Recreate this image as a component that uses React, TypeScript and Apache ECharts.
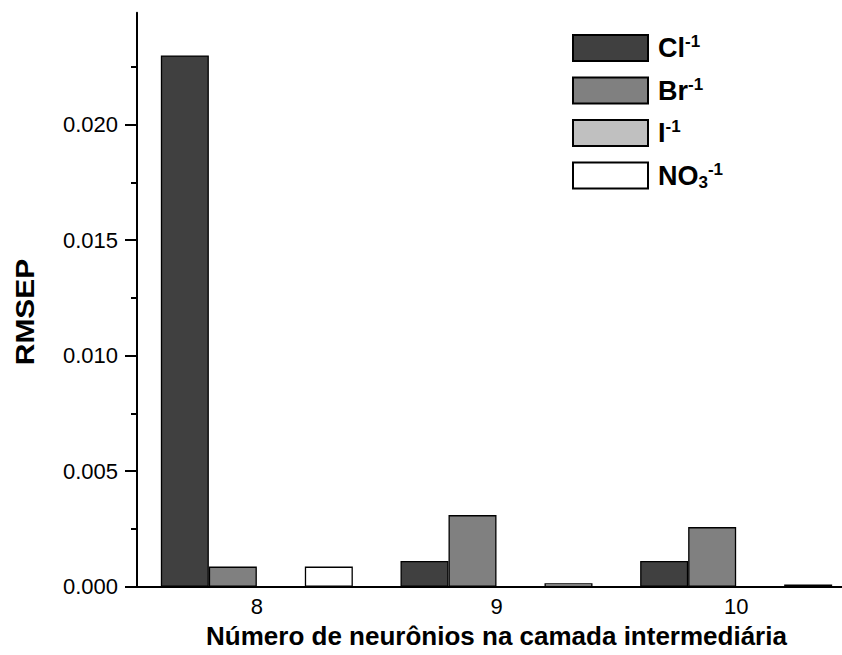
import React, { useEffect, useRef } from "react";
import * as echarts from "echarts";

const categories = ["8", "9", "10"];
const seriesNames = ["Cl", "Br", "I", "NO3"];
const clValues = [0.023, 0.00111, 0.00111];
const brValues = [0.00087, 0.0031, 0.00258];
const iValues = [0, 0, 0];
const no3Values = [0.00087, 0.00015, 0.0001];
const yMajorTicks = [0, 0.005, 0.01, 0.015, 0.02];
const yMinorTicks = [0.0025, 0.0075, 0.0125, 0.0175, 0.0225];
const yMax = 0.02485;

const legendLabels: Record<string, string> = {
  Cl: "{b|Cl}{sup|-1}",
  Br: "{b|Br}{sup|-1}",
  I: "{b|I}{sup|-1}",
  NO3: "{b|NO}{sub|3}{sup|-1}",
};

const FONT = "Arial, 'Liberation Sans', sans-serif";

export default function App() {
  const ref = useRef<HTMLDivElement>(null);
  useEffect(() => {
    document.body.style.margin = "0";
    if (!ref.current) return;
    const chart = echarts.init(ref.current, null, { renderer: "svg" });
    const colors = ["#404040", "#808080", "#c0c0c0", "#ffffff"];
    const values = [clValues, brValues, iValues, no3Values];
    chart.setOption({
      animation: false,
      backgroundColor: "#ffffff",
      grid: { left: 137, top: 12.7, right: -14, bottom: 68.3, containLabel: false, outerBoundsMode: "none" },
      legend: {
        orient: "vertical",
        left: 572,
        top: 33,
        padding: 0,
        itemWidth: 75,
        itemHeight: 26,
        itemGap: 13.5,
        icon: "rect",
        data: seriesNames,
        formatter: (name: string) => legendLabels[name],
        textStyle: {
          rich: {
            b: { fontSize: 27, fontWeight: "bold", fontFamily: FONT, color: "#000", lineHeight: 30, padding: [0, 0, 0, 5] },
            sup: { fontSize: 17, fontWeight: "bold", fontFamily: FONT, color: "#000", lineHeight: 16, verticalAlign: "top" },
            sub: { fontSize: 17, fontWeight: "bold", fontFamily: FONT, color: "#000", lineHeight: 16, verticalAlign: "bottom" },
          },
        },
      },
      xAxis: [
        {
          type: "category",
          data: categories,
          axisLine: { lineStyle: { color: "#000", width: 2 } },
          axisTick: { alignWithLabel: true, length: 11, lineStyle: { color: "#000", width: 2 } },
          axisLabel: { fontSize: 22, fontFamily: FONT, color: "#000", margin: 9 },
          name: "Número de neurônios na camada intermediária",
          nameLocation: "middle",
          nameGap: 35,
          nameTextStyle: { fontSize: 26, fontWeight: "bold", fontFamily: FONT, color: "#000" },
        },
        {
          type: "category",
          data: categories,
          position: "bottom",
          axisLine: { show: false },
          axisTick: { length: 6, lineStyle: { color: "#000", width: 2 } },
          axisLabel: { show: false },
        },
      ],
      yAxis: [
        {
          type: "value",
          min: 0,
          max: yMax,
          axisLine: { show: true, lineStyle: { color: "#000", width: 2 } },
          axisTick: { show: true, length: 12, customValues: yMajorTicks, lineStyle: { color: "#000", width: 2 } },
          axisLabel: {
            customValues: yMajorTicks,
            fontSize: 22,
            fontFamily: FONT,
            color: "#000",
            margin: 19,
            formatter: (v: number) => v.toFixed(3),
          },
          splitLine: { show: false },
        },
        {
          type: "value",
          min: 0,
          max: yMax,
          position: "left",
          axisLine: { show: false },
          axisTick: { show: true, length: 6, customValues: yMinorTicks, lineStyle: { color: "#000", width: 2 } },
          axisLabel: { show: false },
          splitLine: { show: false },
        },
      ],
      graphic: [
        {
          type: "text",
          x: 25,
          y: 312,
          rotation: Math.PI / 2,
          scaleX: 1.15,
          style: {
            text: "RMSEP",
            font: `bold 26px ${FONT}`,
            fill: "#000",
            textAlign: "center",
            textVerticalAlign: "middle",
          },
        },
      ],
      series: seriesNames.map((name, i) => ({
        name,
        type: "bar",
        xAxisIndex: 0,
        yAxisIndex: 0,
        data: values[i],
        barWidth: 48,
        barGap: "0%",
        itemStyle: { color: colors[i], borderColor: "#000", borderWidth: 1.3 },
      })),
    });
    return () => chart.dispose();
  }, []);
  return <div ref={ref} style={{ width: 842, height: 655 }} />;
}
